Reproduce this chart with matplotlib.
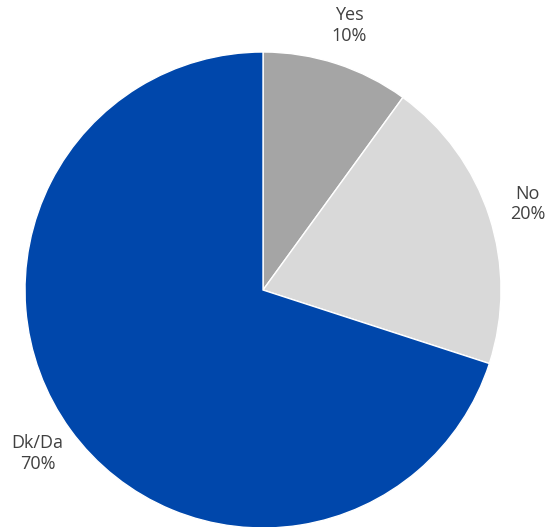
import matplotlib
matplotlib.use("Agg")
import matplotlib.pyplot as plt

categories = ["Yes", "No", "Dk/Da"]
shares = [10, 20, 70]
colors = ["#a5a5a5", "#d9d9d9", "#0047ab"]

plt.rcParams["font.family"] = ["Open Sans", "DejaVu Sans"]
fig = plt.figure(figsize=(5.46, 5.27), dpi=100)
fig.patch.set_facecolor("white")
ax = fig.add_axes([0.0458, -0.0019, 0.8718, 0.9032])

labels = [f"{c}\n{v}%" for c, v in zip(categories, shares)]
wedges, texts = ax.pie(shares, colors=colors, startangle=90, counterclock=False,
                       labels=labels, labeldistance=1.17,
                       wedgeprops=dict(edgecolor="white", linewidth=1.0))
for t in texts:
    t.set_ha("center"); t.set_va("center")
    t.set_fontsize(13); t.set_color("#404040")
    t.set_linespacing(1.2)
ax.set_aspect("equal")
ax.set_xlim(-1, 1); ax.set_ylim(-1, 1)

fig.savefig("out.png", dpi=100, facecolor="white")
